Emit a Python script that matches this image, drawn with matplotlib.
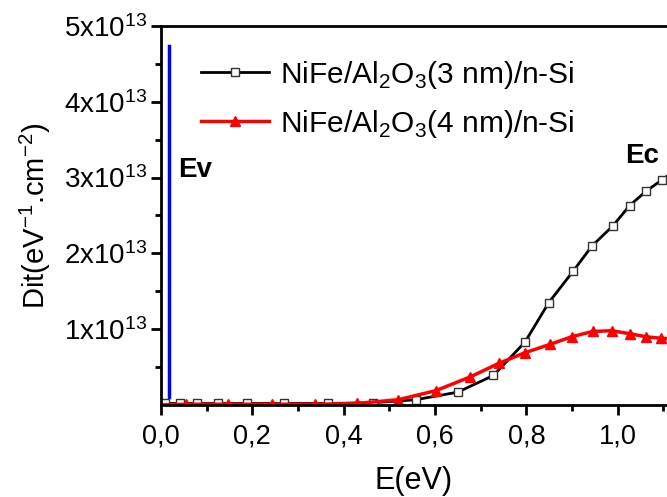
import numpy as np
import matplotlib
matplotlib.use('Agg')
import matplotlib.pyplot as plt
from matplotlib.ticker import MultipleLocator, FixedLocator, FuncFormatter

plt.rcParams['font.family'] = ['Liberation Sans', 'DejaVu Sans']
plt.rcParams['mathtext.fontset'] = 'custom'
plt.rcParams['mathtext.rm'] = 'Liberation Sans'
plt.rcParams['axes.unicode_minus'] = False

# NiFe/Al2O3(3 nm)/n-Si
e_3nm = [0.009, 0.041, 0.079, 0.125, 0.188, 0.270, 0.366, 0.464, 0.558, 0.650,
         0.728, 0.797, 0.849, 0.903, 0.944, 0.989, 1.026, 1.062, 1.097, 1.118]
dit_3nm = [0.02, 0.02, 0.02, 0.02, 0.02, 0.02, 0.02, 0.03, 0.07, 0.17,
           0.39, 0.83, 1.35, 1.77, 2.10, 2.36, 2.63, 2.82, 2.97, 3.06]

# NiFe/Al2O3(4 nm)/n-Si
e_4nm = [0.0, 0.054, 0.147, 0.242, 0.337, 0.429, 0.520, 0.602, 0.677, 0.740,
         0.797, 0.852, 0.899, 0.945, 0.987, 1.027, 1.062, 1.095, 1.130]
dit_4nm = [0.0, 0.01, 0.01, 0.01, 0.01, 0.02, 0.07, 0.19, 0.37, 0.55,
           0.69, 0.80, 0.90, 0.97, 0.98, 0.94, 0.90, 0.88, 0.87]

# valence band edge marker
ev_x = [0.0175, 0.0175]
ev_y = [0.10, 4.73]

SCALE = 1e13

fig = plt.figure(figsize=(6.67, 4.97), dpi=100)
ax = fig.add_axes([0.2414, 0.1851, 0.7586, 0.7626])

ax.plot(ev_x, np.array(ev_y) * SCALE, color='#0000ff', linewidth=2.5)

ax.plot(e_3nm, np.array(dit_3nm) * SCALE, color='black', linewidth=2.0,
        marker='s', markersize=6, markerfacecolor='white',
        markeredgecolor='#333333', markeredgewidth=1.0,
        label=r'NiFe/Al$_2$O$_3$(3 nm)/n-Si')
ax.plot(e_4nm, np.array(dit_4nm) * SCALE, color='#ff0000', linewidth=2.5,
        marker='^', markersize=7.5, markevery=slice(1, None),
        label=r'NiFe/Al$_2$O$_3$(4 nm)/n-Si')

ax.set_xlim(0, 1.108)
ax.set_ylim(0, 5e13)

ax.xaxis.set_major_locator(MultipleLocator(0.2))
ax.xaxis.set_minor_locator(MultipleLocator(0.1))
ax.xaxis.set_major_formatter(FuncFormatter(lambda v, p: f'{v:.1f}'.replace('.', ',')))

ax.yaxis.set_major_locator(FixedLocator([1e13, 2e13, 3e13, 4e13, 5e13]))
ax.yaxis.set_minor_locator(FixedLocator([0.5e13, 1.5e13, 2.5e13, 3.5e13, 4.5e13]))
ax.yaxis.set_major_formatter(FuncFormatter(
    lambda v, p: r'$\mathregular{%dx10^{13}}$' % round(v / 1e13)))

ax.tick_params(which='major', length=7, width=2, direction='out')
ax.tick_params(which='minor', length=4.5, width=2, direction='out')
ax.tick_params(axis='x', labelsize=19.5, pad=6)
ax.tick_params(axis='y', labelsize=20, pad=3)

for side in ['left', 'bottom', 'top']:
    ax.spines[side].set_linewidth(2)
ax.spines['right'].set_visible(False)

ax.set_xlabel('E(eV)', fontsize=22, labelpad=12)
ax.set_ylabel(r'Dit(eV$^{-1}$.cm$^{-2}$)', fontsize=21, labelpad=8)

ax.text(0.037, 3.1e13, 'Ev', fontsize=20, fontweight='bold',
        ha='left', va='center')
ax.text(1.09, 3.28e13, 'Ec', fontsize=20, fontweight='bold',
        ha='right', va='center')

leg = ax.legend(loc='upper left', bbox_to_anchor=(0.055, 0.945), frameon=False,
                fontsize=21.5, handlelength=2.3, handletextpad=0.35,
                labelspacing=0.56, borderaxespad=0)

fig.savefig('out.png', dpi=100)
